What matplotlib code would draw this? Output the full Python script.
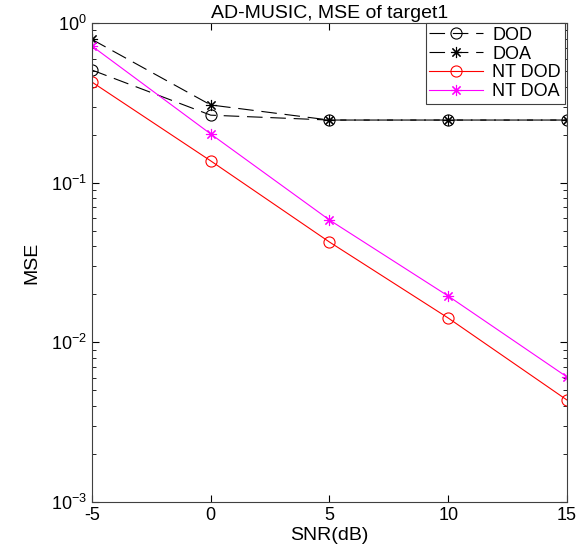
import numpy as np
import matplotlib
matplotlib.use('Agg')
import matplotlib.pyplot as plt

plt.rcParams['font.family'] = ['Liberation Sans', 'DejaVu Sans']
plt.rcParams['mathtext.fontset'] = 'custom'
plt.rcParams['mathtext.rm'] = 'Liberation Sans'
plt.rcParams['mathtext.it'] = 'Liberation Sans:italic'
plt.rcParams['axes.unicode_minus'] = False

snr = [-5, 0, 5, 10, 15]
mse_dod = [0.508, 0.265, 0.247, 0.247, 0.247]
mse_doa = [0.79, 0.307, 0.247, 0.247, 0.247]
mse_nt_dod = [0.427, 0.137, 0.0425, 0.0142, 0.00435]
mse_nt_doa = [0.718, 0.202, 0.0584, 0.0195, 0.00607]

fig = plt.figure(figsize=(5.8, 5.5), dpi=100)
ax = fig.add_axes([0.1586, 0.0873, 0.819, 0.8707])

ast = (8, 2, 0)  # matlab style asterisk
dash = (0, (14, 7))
ax.semilogy(snr, mse_dod, color='black', linestyle=dash, linewidth=0.8,
            marker='o', markersize=8, markerfacecolor='none', markeredgewidth=0.8, label='DOD')
ax.semilogy(snr, mse_doa, color='black', linestyle=dash, linewidth=0.8,
            marker=ast, markersize=8, markerfacecolor='none', markeredgewidth=0.8, label='DOA')
ax.semilogy(snr, mse_nt_dod, color='red', linewidth=0.8,
            marker='o', markersize=8, markerfacecolor='none', markeredgewidth=0.8, label='NT DOD')
ax.semilogy(snr, mse_nt_doa, color='magenta', linewidth=0.8,
            marker=ast, markersize=8, markerfacecolor='none', markeredgewidth=0.8, label='NT DOA')

ax.set_xlim(-5, 15)
ax.set_ylim(1e-3, 1)
ax.set_xticks([-5, 0, 5, 10, 15])
ax.tick_params(which='both', direction='in', top=True, right=True, labelsize=13)
ax.tick_params(which='major', length=5)
ax.tick_params(which='minor', length=3)
for s in ax.spines.values():
    s.set_color('#404040')
    s.set_linewidth(0.8)

ax.set_xlabel('SNR(dB)', fontsize=14, labelpad=2)
ax.set_ylabel('MSE', fontsize=14, labelpad=8)
ax.set_title('AD-MUSIC, MSE of target1', fontsize=14, pad=4)

leg = ax.legend(loc='upper right', bbox_to_anchor=(0.995, 1.0), fontsize=13,
                fancybox=False, framealpha=1, edgecolor='#404040',
                borderpad=0.2, labelspacing=0.1, handlelength=3.0,
                handletextpad=0.5, borderaxespad=0.0)
leg.get_frame().set_linewidth(0.8)

fig.savefig('out.png', dpi=100)
